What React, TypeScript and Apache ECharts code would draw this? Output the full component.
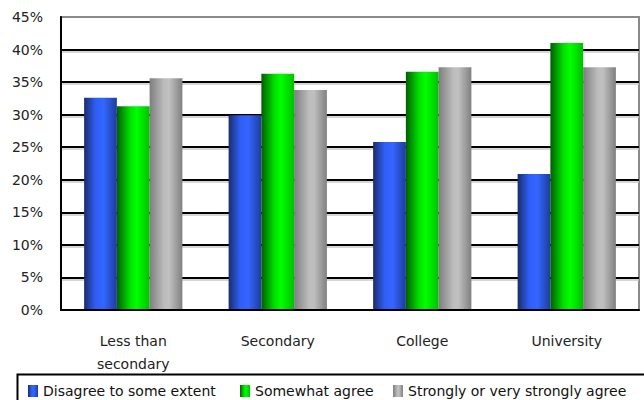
import React, { useEffect, useRef } from "react";
import * as echarts from "echarts";

const categories = ["Less than\nsecondary", "Secondary", "College", "University"];
const seriesNames = ["Disagree to some extent", "Somewhat agree", "Strongly or very strongly agree"];
const disagree = [32.6, 29.9, 25.8, 20.9];
const somewhat = [31.3, 36.3, 36.6, 41.0];
const strongly = [35.6, 33.8, 37.3, 37.3];
const yTicks = { min: 0, max: 45, interval: 5 };

const FONT = "DejaVu Sans";
const legendLefts = [28, 240, 393];

function hGrad(stops: [number, string][]) {
  return new echarts.graphic.LinearGradient(
    0, 0, 1, 0,
    stops.map(([offset, color]) => ({ offset, color }))
  );
}

const blueFill = hGrad([
  [0, "#1a2c6e"],
  [0.35, "#2f5ef5"],
  [0.6, "#3366ff"],
  [1, "#1f3c9c"],
]);
const greenFill = hGrad([
  [0, "#005f00"],
  [0.4, "#00e000"],
  [0.6, "#00ff00"],
  [1, "#00c000"],
]);
const greyFill = hGrad([
  [0, "#7e7e7e"],
  [0.45, "#bdbdbd"],
  [0.6, "#c0c0c0"],
  [1, "#808080"],
]);

export default function App() {
  const ref = useRef<HTMLDivElement>(null);

  useEffect(() => {
    if (!ref.current) return;
    const chart = echarts.init(ref.current, undefined, { renderer: "svg" });
    const values = [disagree, somewhat, strongly];
    const fills = [blueFill, greenFill, greyFill];

    chart.setOption({
      animation: false,
      backgroundColor: "#ffffff",
      textStyle: { fontFamily: FONT },
      grid: [
        {
          left: 61,
          right: 5,
          top: 17,
          bottom: 90,
          show: true,
          borderColor: "#8a8a8a",
          borderWidth: 2,
        },
        // a second, 2px-lower grid whose light lines give the gridlines their drop shadow
        { left: 61, right: 5, top: 19, bottom: 88 },
      ],
      xAxis: [
        {
          type: "category",
          data: categories,
          gridIndex: 0,
          z: 3,
          axisLine: { lineStyle: { color: "#000", width: 2 } },
          axisTick: { show: false },
          axisLabel: {
            color: "#222",
            fontSize: 14,
            fontFamily: FONT,
            margin: 19,
            lineHeight: 23,
          },
        },
        {
          type: "category",
          data: categories,
          gridIndex: 1,
          show: false,
        },
      ],
      yAxis: [
        {
          type: "value",
          gridIndex: 0,
          min: yTicks.min,
          max: yTicks.max,
          interval: yTicks.interval,
          axisLine: { show: true, lineStyle: { color: "#000", width: 2 } },
          axisTick: { show: false },
          axisLabel: {
            color: "#222",
            fontSize: 14,
            fontFamily: FONT,
            margin: 18,
            formatter: "{value}%",
          },
          splitLine: {
            show: true,
            showMaxLine: false,
            lineStyle: { color: "#000", width: 2 },
          },
        },
        {
          type: "value",
          gridIndex: 1,
          min: yTicks.min,
          max: yTicks.max,
          interval: yTicks.interval,
          z: 0,
          axisLine: { show: false },
          axisTick: { show: false },
          axisLabel: { show: false },
          splitLine: {
            show: true,
            showMinLine: false,
            showMaxLine: false,
            lineStyle: { color: "#c8c8c8", width: 1.5 },
          },
        },
      ],
      legend: seriesNames.map((name, i) => ({
        left: legendLefts[i],
        top: 384,
        padding: 0,
        icon: "rect",
        itemWidth: 10,
        itemHeight: 12,
        textStyle: { fontSize: 14, color: "#111", fontFamily: FONT },
        data: [name],
      })),
      graphic: [
        {
          type: "rect",
          left: 15,
          top: 372,
          shape: { width: 660, height: 60 },
          style: { fill: "none", stroke: "#000", lineWidth: 2 },
          z: -1,
        },
      ],
      series: seriesNames.map((name, i) => ({
        name,
        type: "bar",
        xAxisIndex: 0,
        yAxisIndex: 0,
        data: values[i],
        barGap: "0%",
        barCategoryGap: "32%",
        itemStyle: { color: fills[i] },
      })),
    });

    return () => chart.dispose();
  }, []);

  return (
    <div
      ref={ref}
      style={{ position: "absolute", left: 0, top: 0, width: 644, height: 400 }}
    />
  );
}
